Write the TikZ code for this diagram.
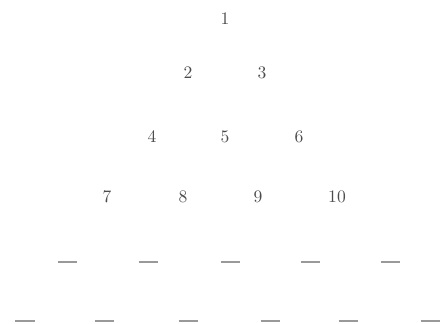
\documentclass[tikz,border=0pt]{standalone}
\begin{document}
\begin{tikzpicture}[every node/.style={font=\normalsize, text=black!70}]
      \useasboundingbox (0,0) rectangle (8.9,6.48);
      \tikzset{blank/.style={inner sep=0pt, text=black!40}}
      \node (n1)  at (4.50,6.10) {1};
      \node (n2)  at (3.76,5.02) {2};
      \node (n3)  at (5.24,5.02) {3};
      \node (n4)  at (3.04,3.74) {4};
      \node (n5)  at (4.50,3.74) {5};
      \node (n6)  at (5.98,3.74) {6};
      \node (n7)  at (2.14,2.54) {7};
      \node (n8)  at (3.66,2.54) {8};
      \node (n9)  at (5.16,2.54) {9};
      \node (n10) at (6.74,2.54) {10};
      \node[blank] (b1) at (1.34,1.24) {\rule{0.38cm}{0.7pt}};
      \node[blank] (b2) at (2.96,1.24) {\rule{0.38cm}{0.7pt}};
      \node[blank] (b3) at (4.60,1.24) {\rule{0.38cm}{0.7pt}};
      \node[blank] (b4) at (6.20,1.24) {\rule{0.38cm}{0.7pt}};
      \node[blank] (b5) at (7.80,1.24) {\rule{0.38cm}{0.7pt}};
      \node[blank] (c1) at (0.50,0.06) {\rule{0.38cm}{0.7pt}};
      \node[blank] (c2) at (2.08,0.06) {\rule{0.38cm}{0.7pt}};
      \node[blank] (c3) at (3.76,0.06) {\rule{0.38cm}{0.7pt}};
      \node[blank] (c4) at (5.40,0.06) {\rule{0.38cm}{0.7pt}};
      \node[blank] (c5) at (6.96,0.06) {\rule{0.38cm}{0.7pt}};
      \node[blank] (c6) at (8.60,0.06) {\rule{0.38cm}{0.7pt}};
    \end{tikzpicture}
\end{document}
